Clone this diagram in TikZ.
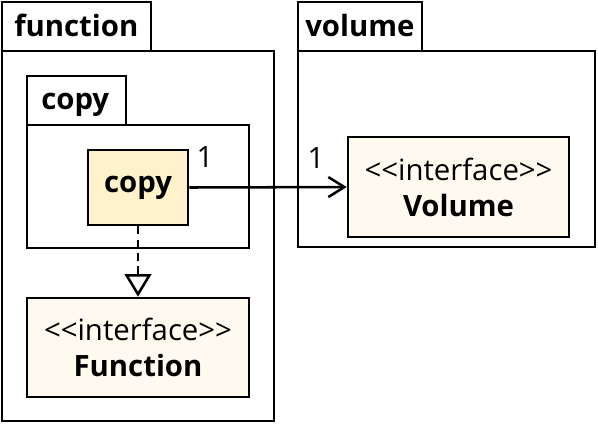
\documentclass[tikz,border=0pt]{standalone}
\usepackage{fontspec}
\setmainfont{Open Sans}
\usetikzlibrary{arrows.meta}
\definecolor{clsfill}{HTML}{FEF2CC}
\definecolor{ifcfill}{HTML}{FEFAEF}
\newcommand{\ifcstereo}{<\kern0pt<interface>\kern0pt>}
\begin{document}
\begin{tikzpicture}[x=0.75pt,y=-0.75pt,
  line width=1.9pt,
  pkg/.style={draw=black,fill=white,line width=1.9pt},
  pkglabel/.style={font=\fontsize{22}{26}\selectfont\bfseries,anchor=base west,inner sep=0pt},
  cls/.style={draw=black,fill=clsfill,line width=1.9pt,font=\fontsize{22}{26}\selectfont\bfseries},
  ifc/.style={draw=black,fill=ifcfill,line width=1.9pt,align=center,font=\fontsize{22}{27}\selectfont},
  mult/.style={font=\fontsize{22}{26}\selectfont,inner sep=0pt}]
\useasboundingbox[fill=white] (0,0) rectangle (598,430);
% package function
\draw[pkg] (2,2) rectangle (151,51);
\draw[pkg] (2,51) rectangle (274,421);
\node[pkglabel] (functionlbl) at (13,36) {function};
% package copy
\draw[pkg] (27,76) rectangle (126,125);
\draw[pkg] (27,125) rectangle (249,248);
\node[pkglabel] (copylbl) at (40,109) {copy};
% package volume
\draw[pkg] (298,2) rectangle (422,51);
\draw[pkg] (298,51) rectangle (595,247);
\node[pkglabel] (volumelbl) at (304,36) {volume};
% classes
\node[cls,minimum width=75pt,minimum height=56.25pt] (copy) at (138,187.5) {copy};
\node[ifc,minimum width=166.5pt,minimum height=74.25pt] (function) at (138,347.5) {\ifcstereo\\\textbf{Function}};
\node[ifc,minimum width=165.75pt,minimum height=75pt] (volume) at (458.5,187) {\ifcstereo\\\textbf{Volume}};
% connectors
\draw[-{Straight Barb[length=12pt,width=15pt,line width=1.9pt]}] (copy.east) -- (volume.west);
\node[mult] (m1) at (205,157) {1};
\node[mult] (m2) at (316,158) {1};
\draw[dashed,dash pattern=on 6pt off 4pt,-{Triangle[open,length=17pt,width=20pt,line width=1.9pt,fill=white]}] (copy.south) -- (function.north);
\end{tikzpicture}
\end{document}
